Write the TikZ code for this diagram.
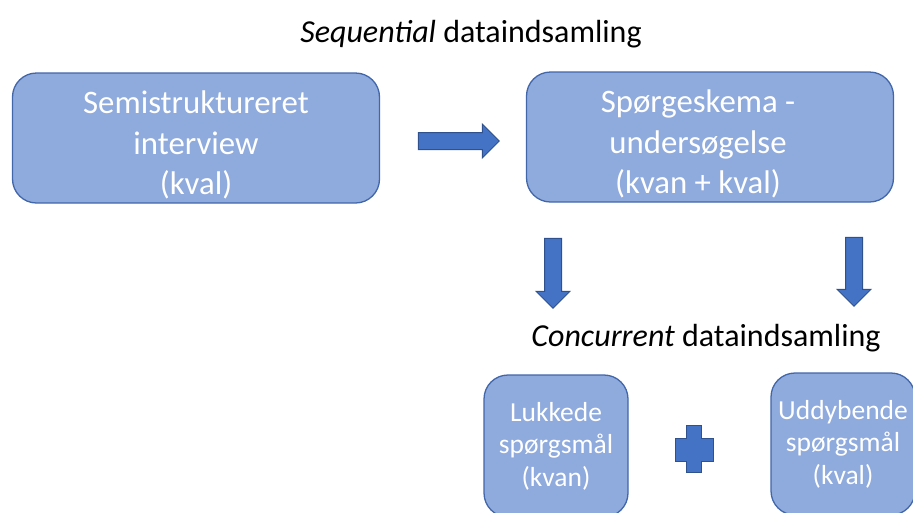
\documentclass[tikz,border=0pt]{standalone}
\usepackage{fontspec}
\setmainfont{Carlito}
\usetikzlibrary{shapes.arrows}

\definecolor{boxfill}{RGB}{143,170,220}
\definecolor{boxline}{RGB}{66,102,170}
\definecolor{arrowfill}{RGB}{68,114,196}
\definecolor{arrowline}{RGB}{47,82,143}

\tikzset{
  box/.style={draw=boxline, line width=1.3pt, fill=boxfill, rounded corners=24pt,
    text=white, align=center, inner sep=0pt},
  bigbox/.style={box, minimum width=367pt, minimum height=130pt},
  bigtext/.style={text=white, align=center, inner sep=0pt,
    font=\fontsize{32.8}{40.5}\selectfont},
  smallbox/.style={box, minimum width=144pt, minimum height=142pt,
    font=\fontsize{27.5}{32.5}\selectfont},
  blockarrow/.style={single arrow, draw=arrowline, fill=arrowfill, line width=1pt,
    inner sep=8pt, minimum width=33pt, single arrow head extend=8.5pt},
  heading/.style={font=\fontsize{32}{40}\selectfont, anchor=base, inner sep=0pt},
}

\begin{document}
\begin{tikzpicture}[x=1pt, y=-1pt]
  \useasboundingbox (0,0) rectangle (913,512);
  \clip (0,0) rectangle (913,512);

  % first phase
  \node[heading] (seqtitle) at (471,42) {\textit{Sequential} dataindsamling};
  \node[bigbox, label={[bigtext, yshift=-7pt]center:{Semistruktureret\\interview\\(kval)}}]
    (interview) at (196,138) {};
  \node[bigbox, label={[bigtext, yshift=-7pt, xshift=-12pt]center:{Spørgeskema -\\undersøgelse\\(kvan + kval)}}]
    (survey) at (710,137) {};
  \node[blockarrow, minimum height=81pt] (seqarrow) at (454.5,141) {};

  % second phase
  \node[blockarrow, minimum height=70pt, shape border rotate=270] (leftdown) at (553,269) {};
  \node[blockarrow, minimum height=69pt, shape border rotate=270] (rightdown) at (854,267.5) {};
  \node[heading] (contitle) at (706,346) {\textit{Concurrent} dataindsamling};

  \node[smallbox] (closed) at (556,446) {Lukkede\\spørgsmål\\(kvan)};
  \node[smallbox] (openq) at (843,444) {Uddybende\\spørgsmål\\(kval)};

  % plus between the two question types
  \coordinate (plus) at (693,449);
  \draw[draw=arrowline, fill=arrowfill, line width=1pt, shift={(plus)}]
    (-18,-11) -| (-7,-24) -| (8,-11) -| (20,12) -| (8,23) -| (-7,12) -| (-18,-11) -- cycle;
\end{tikzpicture}
\end{document}
